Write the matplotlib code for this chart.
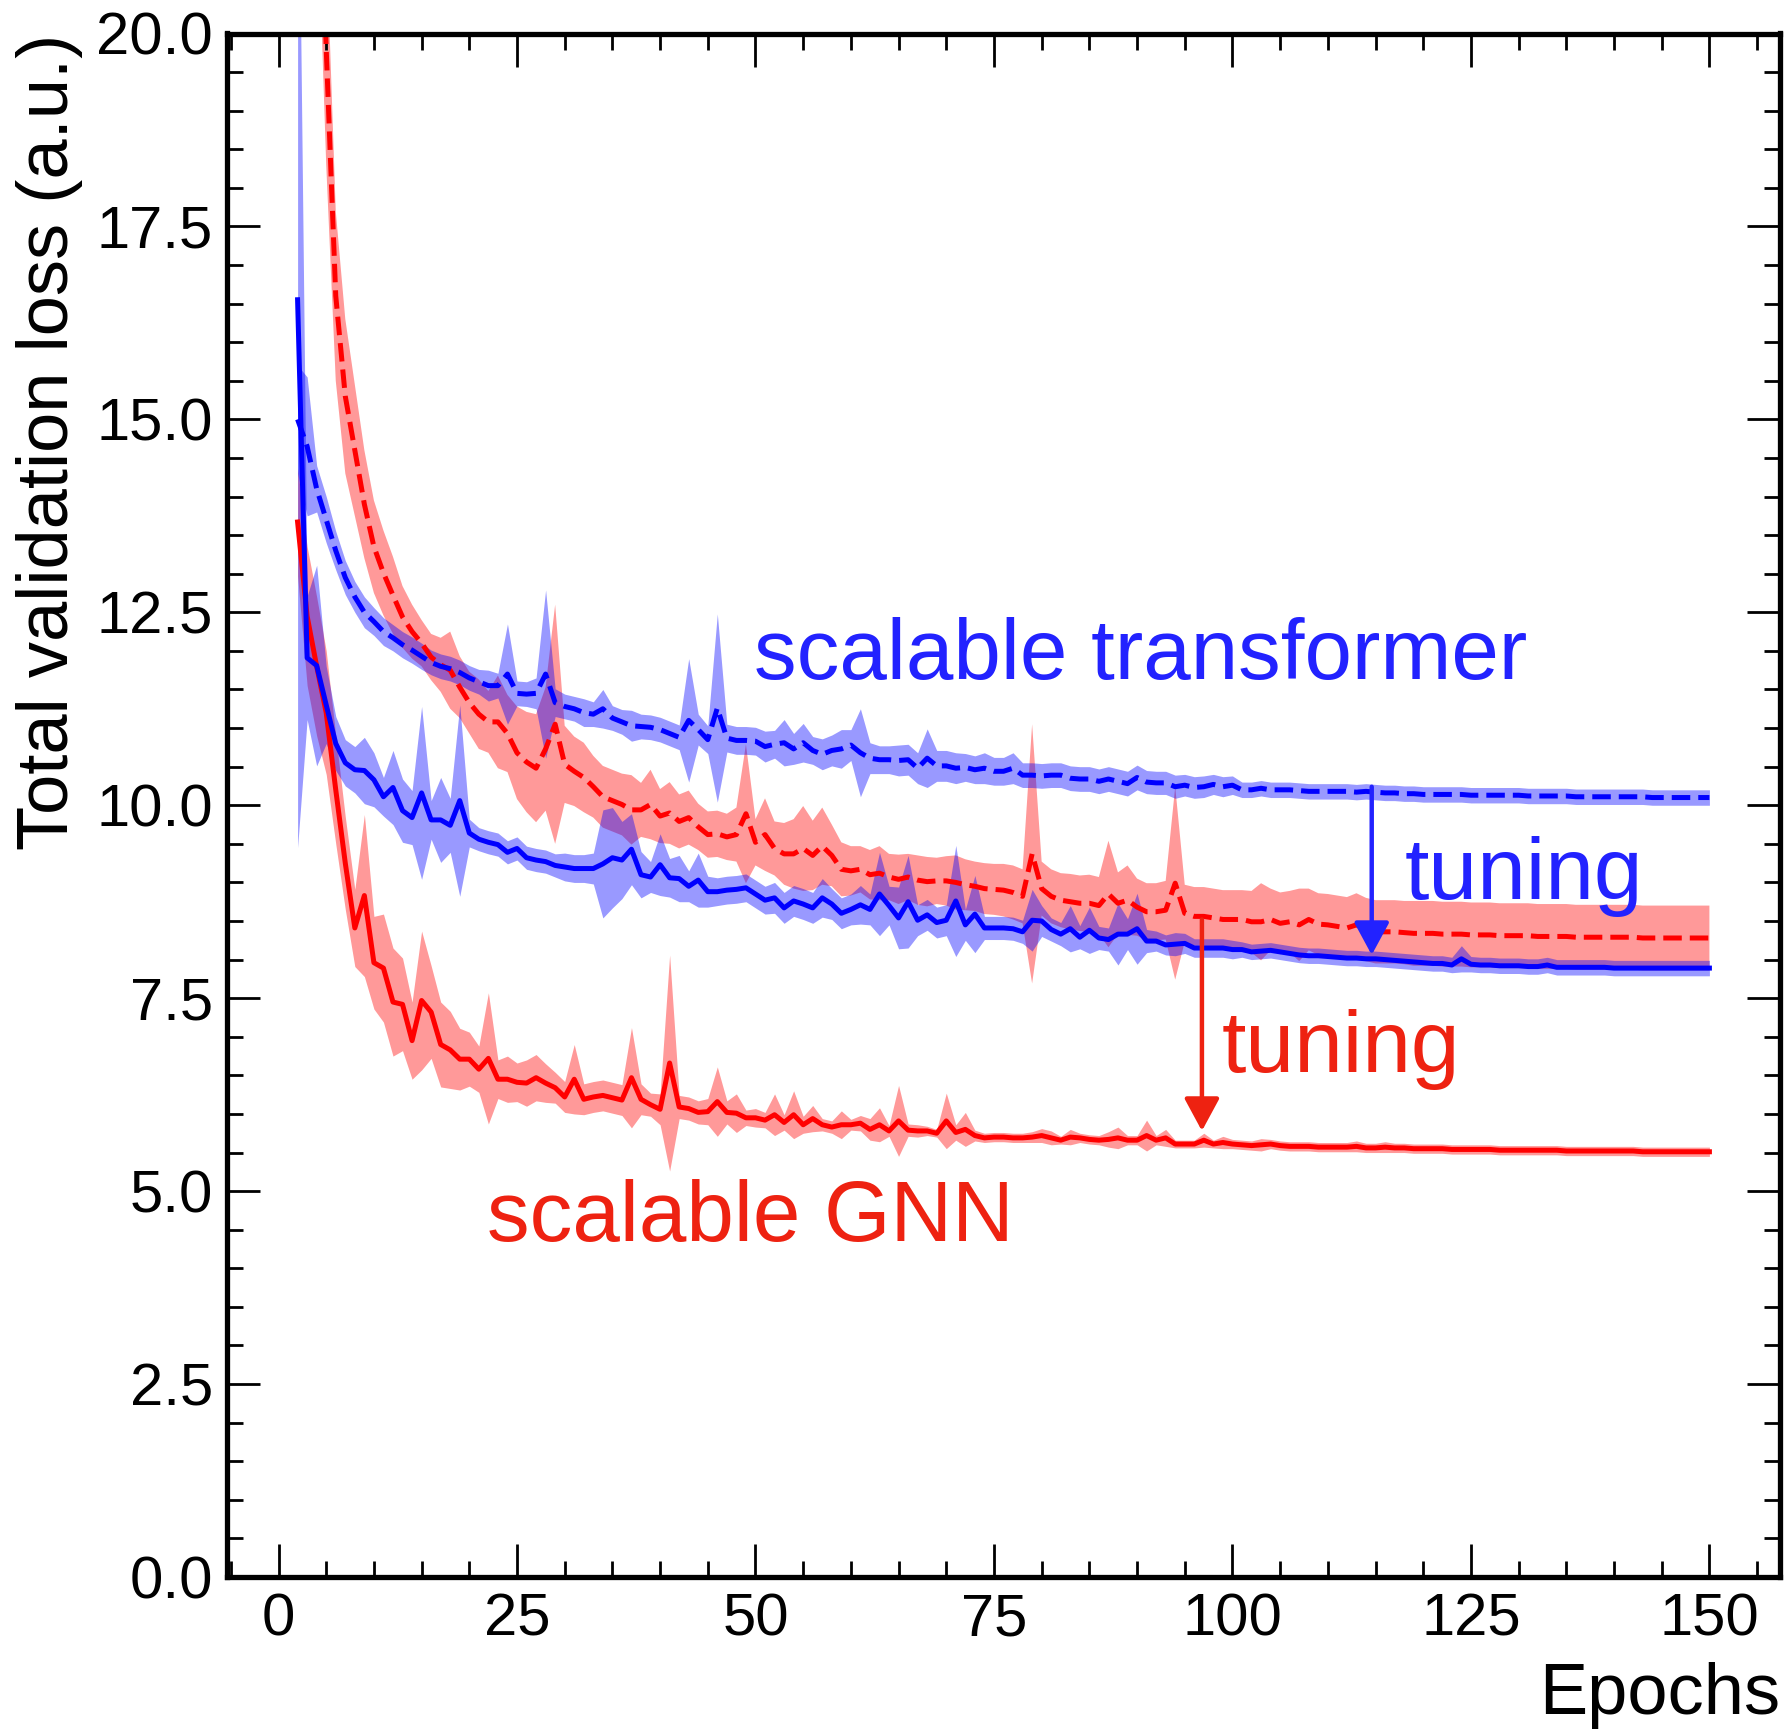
import numpy as np
import matplotlib.pyplot as plt
from matplotlib.ticker import MultipleLocator, FormatStrFormatter

plt.rcParams['font.family'] = ['Liberation Sans', 'DejaVu Sans']

epochs = list(range(2, 151))

# scalable GNN, after tuning (solid red)
gnn_tuned = [
    13.67, 12.45, 11.80, 11.20, 10.20, 9.25, 8.41, 8.83, 7.96, 7.89,
    7.45, 7.42, 6.95, 7.47, 7.32, 6.90, 6.83, 6.71, 6.71, 6.58,
    6.72, 6.45, 6.45, 6.41, 6.40, 6.47, 6.40, 6.34, 6.22, 6.45,
    6.19, 6.22, 6.24, 6.21, 6.18, 6.47, 6.19, 6.12, 6.06, 6.66,
    6.09, 6.07, 6.02, 6.03, 6.16, 6.02, 6.01, 5.95, 5.95, 5.92,
    5.99, 5.89, 5.99, 5.86, 5.94, 5.86, 5.83, 5.86, 5.86, 5.88,
    5.80, 5.86, 5.78, 5.91, 5.79, 5.78, 5.78, 5.75, 5.91, 5.76,
    5.80, 5.72, 5.69, 5.70, 5.70, 5.69, 5.69, 5.70, 5.72, 5.69,
    5.66, 5.70, 5.69, 5.67, 5.66, 5.67, 5.69, 5.66, 5.66, 5.72,
    5.66, 5.69, 5.61, 5.61, 5.61, 5.66, 5.61, 5.63, 5.61, 5.60,
    5.59, 5.60, 5.61, 5.59, 5.58, 5.58, 5.58, 5.57, 5.57, 5.57,
    5.57, 5.58, 5.56, 5.56, 5.57, 5.56, 5.56, 5.55, 5.55, 5.55,
    5.55, 5.54, 5.54, 5.54, 5.54, 5.54, 5.53, 5.53, 5.53, 5.53,
    5.53, 5.53, 5.53, 5.52, 5.52, 5.52, 5.52, 5.52, 5.52, 5.52,
    5.52, 5.51, 5.51, 5.51, 5.51, 5.51, 5.51, 5.51, 5.51,
]
gnn_tuned_std = [
    0.70, 0.90, 0.90, 0.80, 0.70, 0.60, 0.50, 1.05, 0.60, 0.70,
    0.70, 0.60, 0.50, 0.90, 0.60, 0.55, 0.50, 0.40, 0.35, 0.30,
    0.85, 0.25, 0.30, 0.25, 0.30, 0.30, 0.25, 0.20, 0.20, 0.45,
    0.20, 0.20, 0.20, 0.20, 0.20, 0.65, 0.20, 0.15, 0.20, 1.40,
    0.15, 0.15, 0.15, 0.17, 0.45, 0.15, 0.25, 0.10, 0.12, 0.10,
    0.27, 0.10, 0.31, 0.11, 0.17, 0.08, 0.08, 0.18, 0.07, 0.10,
    0.14, 0.22, 0.07, 0.46, 0.08, 0.08, 0.06, 0.05, 0.36, 0.10,
    0.22, 0.07, 0.06, 0.06, 0.06, 0.06, 0.06, 0.07, 0.09, 0.09,
    0.05, 0.10, 0.06, 0.06, 0.06, 0.10, 0.14, 0.06, 0.06, 0.20,
    0.06, 0.11, 0.05, 0.05, 0.05, 0.09, 0.05, 0.08, 0.06, 0.06,
    0.06, 0.08, 0.06, 0.06, 0.06, 0.06, 0.06, 0.06, 0.06, 0.06,
    0.06, 0.07, 0.06, 0.06, 0.07, 0.06, 0.06, 0.06, 0.06, 0.06,
] + [0.06] * 29

# scalable GNN, before tuning (dashed red)
gnn_base = [
    45.0, 31.0, 24.0, 19.8, 16.6, 15.3, 14.6, 13.9, 13.35, 13.01,
    12.72, 12.44, 12.25, 12.10, 11.92, 11.82, 11.75, 11.53, 11.33, 11.18,
    11.08, 11.08, 10.93, 10.68, 10.56, 10.48, 10.73, 11.05, 10.53, 10.44,
    10.36, 10.24, 10.11, 10.06, 10.01, 9.94, 9.94, 10.01, 9.86, 9.90,
    9.79, 9.84, 9.72, 9.62, 9.63, 9.59, 9.62, 9.89, 9.52, 9.62,
    9.44, 9.37, 9.37, 9.44, 9.35, 9.47, 9.35, 9.17, 9.15, 9.17,
    9.10, 9.12, 9.07, 9.04, 9.07, 9.03, 9.01, 9.02, 9.02, 9.00,
    8.97, 8.95, 8.92, 8.91, 8.90, 8.87, 8.82, 9.37, 8.92, 8.82,
    8.77, 8.75, 8.73, 8.73, 8.70, 8.85, 8.73, 8.77, 8.68, 8.62,
    8.62, 8.64, 8.99, 8.60, 8.56, 8.56, 8.54, 8.52, 8.52, 8.52,
    8.49, 8.49, 8.52, 8.47, 8.49, 8.45, 8.52, 8.46, 8.45, 8.43,
    8.41, 8.45, 8.39, 8.36, 8.36, 8.36, 8.35, 8.34, 8.34, 8.34,
    8.33, 8.33, 8.33, 8.32, 8.32, 8.32, 8.31, 8.31, 8.31, 8.31,
    8.30, 8.30, 8.30, 8.30, 8.29, 8.29, 8.29, 8.29, 8.29, 8.29,
    8.29, 8.28, 8.28, 8.28, 8.28, 8.28, 8.28, 8.28, 8.28,
]
gnn_base_std = [
    3.00, 2.50, 2.00, 1.50, 1.10, 1.00, 0.85, 0.70, 0.60, 0.55,
    0.50, 0.40, 0.35, 0.30, 0.30, 0.35, 0.50, 0.40, 0.40, 0.45,
    0.40, 0.60, 0.50, 0.60, 0.65, 0.70, 0.80, 1.55, 0.50, 0.45,
    0.45, 0.40, 0.40, 0.40, 0.40, 0.45, 0.35, 0.45, 0.35, 0.40,
    0.35, 0.35, 0.30, 0.30, 0.30, 0.30, 0.35, 0.90, 0.30, 0.47,
    0.35, 0.40, 0.45, 0.55, 0.45, 0.50, 0.40, 0.35, 0.32, 0.30,
    0.32, 0.35, 0.30, 0.32, 0.30, 0.32, 0.32, 0.30, 0.32, 0.35,
    0.33, 0.32, 0.33, 0.33, 0.34, 0.35, 0.35, 1.68, 0.35, 0.35,
    0.35, 0.36, 0.36, 0.37, 0.37, 0.69, 0.40, 0.45, 0.37, 0.37,
    0.37, 0.38, 1.25, 0.37, 0.38, 0.38, 0.38, 0.38, 0.38, 0.38,
    0.40, 0.50, 0.40, 0.40, 0.40, 0.47, 0.40, 0.40, 0.40, 0.40,
    0.40, 0.41, 0.41, 0.41, 0.41, 0.41, 0.41, 0.42, 0.42, 0.42,
] + [0.42] * 29

# scalable transformer, after tuning (solid blue)
tf_tuned = [
    16.55, 11.91, 11.81, 11.30, 10.80, 10.55, 10.46, 10.45, 10.33, 10.11,
    10.23, 9.93, 9.84, 10.16, 9.81, 9.81, 9.74, 10.06, 9.64, 9.56,
    9.52, 9.49, 9.39, 9.44, 9.32, 9.29, 9.27, 9.22, 9.20, 9.18,
    9.18, 9.18, 9.24, 9.32, 9.29, 9.43, 9.10, 9.07, 9.23, 9.06,
    9.05, 8.95, 9.03, 8.88, 8.88, 8.90, 8.91, 8.93, 8.85, 8.77,
    8.80, 8.67, 8.76, 8.72, 8.67, 8.80, 8.72, 8.60, 8.65, 8.71,
    8.65, 8.85, 8.70, 8.54, 8.75, 8.51, 8.58, 8.48, 8.51, 8.76,
    8.45, 8.59, 8.41, 8.41, 8.41, 8.40, 8.36, 8.51, 8.50, 8.39,
    8.33, 8.40, 8.29, 8.38, 8.28, 8.26, 8.33, 8.33, 8.40, 8.24,
    8.24, 8.19, 8.20, 8.21, 8.15, 8.15, 8.15, 8.15, 8.13, 8.13,
    8.10, 8.11, 8.12, 8.10, 8.08, 8.06, 8.05, 8.05, 8.04, 8.03,
    8.02, 8.02, 8.01, 8.01, 8.00, 7.99, 7.98, 7.97, 7.96, 7.95,
    7.95, 7.93, 8.01, 7.94, 7.93, 7.93, 7.92, 7.92, 7.92, 7.91,
    7.91, 7.93, 7.90, 7.90, 7.90, 7.90, 7.90, 7.90, 7.89, 7.89,
    7.89, 7.89, 7.89, 7.89, 7.89, 7.89, 7.89, 7.89, 7.89,
]
tf_tuned_std = [
    7.10, 0.80, 1.30, 0.50, 0.35, 0.30, 0.30, 0.43, 0.35, 0.25,
    0.48, 0.41, 0.35, 1.12, 0.25, 0.55, 0.35, 1.24, 0.18, 0.15,
    0.15, 0.15, 0.15, 0.15, 0.15, 0.15, 0.15, 0.15, 0.18, 0.18,
    0.18, 0.20, 0.70, 0.65, 0.50, 0.46, 0.30, 0.20, 0.40, 0.25,
    0.30, 0.20, 0.35, 0.20, 0.18, 0.18, 0.18, 0.18, 0.18, 0.18,
    0.20, 0.20, 0.20, 0.20, 0.20, 0.25, 0.20, 0.20, 0.20, 0.25,
    0.20, 0.54, 0.25, 0.40, 0.60, 0.20, 0.20, 0.20, 0.20, 0.72,
    0.20, 0.50, 0.15, 0.15, 0.15, 0.15, 0.15, 0.40, 0.20, 0.15,
    0.15, 0.30, 0.15, 0.30, 0.15, 0.15, 0.40, 0.20, 0.46, 0.15,
    0.13, 0.13, 0.15, 0.13, 0.12, 0.12, 0.12, 0.12, 0.12, 0.10,
] + [0.10] * 22 + [0.17] + [0.10] * 26

# scalable transformer, before tuning (dashed blue)
tf_base = [
    15.00, 14.65, 14.10, 13.70, 13.30, 12.95, 12.70, 12.50, 12.38, 12.25,
    12.17, 12.08, 12.01, 11.93, 11.85, 11.80, 11.77, 11.72, 11.65, 11.60,
    11.55, 11.55, 11.70, 11.45, 11.44, 11.45, 11.70, 11.33, 11.28, 11.25,
    11.20, 11.18, 11.25, 11.13, 11.08, 11.03, 11.02, 11.01, 10.98, 10.93,
    10.88, 11.10, 10.98, 10.85, 11.26, 10.87, 10.84, 10.84, 10.83, 10.76,
    10.79, 10.81, 10.73, 10.81, 10.71, 10.66, 10.71, 10.73, 10.78, 10.68,
    10.61, 10.59, 10.59, 10.58, 10.59, 10.48, 10.61, 10.51, 10.51, 10.48,
    10.49, 10.46, 10.48, 10.44, 10.44, 10.48, 10.39, 10.39, 10.38, 10.39,
    10.39, 10.35, 10.34, 10.34, 10.31, 10.34, 10.31, 10.28, 10.36, 10.30,
    10.29, 10.29, 10.24, 10.26, 10.23, 10.24, 10.27, 10.24, 10.26, 10.20,
    10.20, 10.22, 10.20, 10.20, 10.20, 10.19, 10.18, 10.18, 10.18, 10.18,
    10.18, 10.17, 10.18, 10.17, 10.16, 10.16, 10.15, 10.15, 10.14, 10.14,
    10.14, 10.14, 10.14, 10.13, 10.13, 10.13, 10.13, 10.13, 10.13, 10.12,
    10.12, 10.12, 10.12, 10.12, 10.11, 10.11, 10.11, 10.11, 10.11, 10.11,
    10.11, 10.11, 10.10, 10.10, 10.10, 10.10, 10.10, 10.10, 10.10,
]
tf_base_std = [
    0.70, 0.90, 0.30, 0.30, 0.25, 0.22, 0.20, 0.20, 0.18, 0.18,
    0.17, 0.17, 0.17, 0.17, 0.16, 0.16, 0.16, 0.16, 0.16, 0.16,
    0.20, 0.16, 0.65, 0.16, 0.16, 0.20, 1.09, 0.18, 0.16, 0.16,
    0.18, 0.16, 0.25, 0.16, 0.16, 0.20, 0.16, 0.16, 0.16, 0.16,
    0.16, 0.80, 0.20, 0.18, 1.22, 0.18, 0.18, 0.18, 0.18, 0.20,
    0.18, 0.30, 0.20, 0.25, 0.18, 0.20, 0.20, 0.25, 0.20, 0.57,
    0.20, 0.18, 0.18, 0.20, 0.20, 0.20, 0.38, 0.20, 0.20, 0.20,
    0.18, 0.18, 0.20, 0.18, 0.18, 0.20, 0.16, 0.16, 0.16, 0.16,
    0.16, 0.16, 0.16, 0.16, 0.16, 0.16, 0.16, 0.16, 0.16, 0.15,
    0.15, 0.15, 0.15, 0.14, 0.14, 0.14, 0.13, 0.13, 0.12, 0.10,
] + [0.10] * 49

TXT_BLUE = '#2222ff'
TXT_RED = '#ee2211'

fig = plt.figure(figsize=(17.89, 17.29), dpi=100)
ax = fig.add_axes([227 / 1789, 152 / 1729, 1553 / 1789, 1543.5 / 1729])

series = [
    (gnn_base, gnn_base_std, 'red', '--'),
    (gnn_tuned, gnn_tuned_std, 'red', '-'),
    (tf_base, tf_base_std, 'blue', '--'),
    (tf_tuned, tf_tuned_std, 'blue', '-'),
]
for mean, std, col, ls in series:
    m = np.array(mean)
    s = np.array(std)
    ax.fill_between(epochs, m - s, m + s, color=col, alpha=0.4, lw=0)
for mean, std, col, ls in series:
    ax.plot(epochs, mean, color=col, ls=ls, lw=3.6)

ax.text(49.8, 11.64, 'scalable transformer', color=TXT_BLUE, fontsize=61.5, va='baseline')
ax.text(21.9, 4.36, 'scalable GNN', color=TXT_RED, fontsize=61.5, va='baseline')
ax.text(118.1, 8.79, 'tuning', color=TXT_BLUE, fontsize=63, va='baseline')
ax.text(98.9, 6.54, 'tuning', color=TXT_RED, fontsize=63, va='baseline')

arrow_style = '-|>,head_length=0.5,head_width=0.27'
ax.annotate('', xy=(114.6, 8.06), xytext=(114.6, 10.24),
            arrowprops=dict(arrowstyle=arrow_style, color=TXT_BLUE, lw=3.2,
                            shrinkA=0, shrinkB=0, mutation_scale=40))
ax.annotate('', xy=(96.8, 5.78), xytext=(96.8, 8.52),
            arrowprops=dict(arrowstyle=arrow_style, color=TXT_RED, lw=3.2,
                            shrinkA=0, shrinkB=0, mutation_scale=40))

ax.set_xlim(-5.4, 157.4)
ax.set_ylim(0, 20)
ax.xaxis.set_major_locator(MultipleLocator(25))
ax.xaxis.set_minor_locator(MultipleLocator(5))
ax.yaxis.set_major_locator(MultipleLocator(2.5))
ax.yaxis.set_minor_locator(MultipleLocator(0.5))
ax.yaxis.set_major_formatter(FormatStrFormatter('%.1f'))

ax.tick_params(which='both', direction='in', top=True, right=True, width=2)
ax.tick_params(which='major', length=23.5, labelsize=43)
ax.tick_params(axis='x', which='major', pad=11)
ax.tick_params(axis='y', which='major', pad=10)
ax.tick_params(which='minor', length=11.8)
for sp in ax.spines.values():
    sp.set_linewidth(3.8)

ax.set_xlabel('Epochs', fontsize=52, loc='right')
ax.set_ylabel('Total validation loss (a.u.)', fontsize=52, loc='top')
ax.xaxis.set_label_coords(1.0, -0.055)
ax.yaxis.set_label_coords(-0.093, 1.0)

fig.savefig('out.png', dpi=100)
